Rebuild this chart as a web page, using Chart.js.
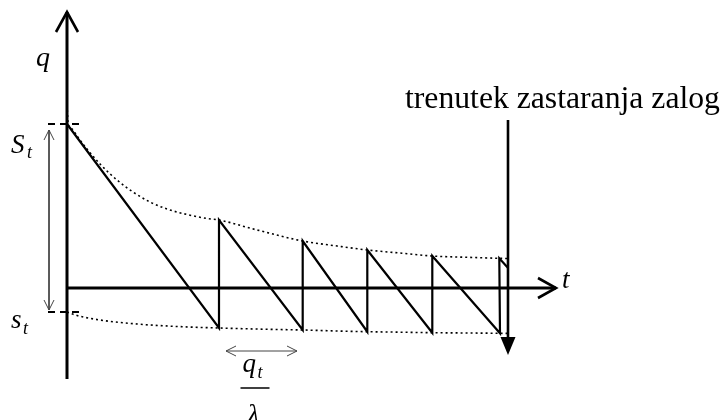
<!DOCTYPE html>
<html><head><meta charset="utf-8">
<script src="https://cdn.jsdelivr.net/npm/chart.js@4"></script>
<style>html,body{margin:0;padding:0;background:#fff}#wrap{width:724px;height:420px;position:relative}</style>
</head><body><div id="wrap"><canvas id="c"></canvas></div>
<script>
// time (t) and stock level (q) values, origin at the axes crossing
const sawT = [0, 152, 152, 235.7, 235.7, 300.3, 300.3, 365.3, 365.3, 433, 432.3, 441.3];
const sawQ = [164, -40, 68, -42, 47, -43.7, 38, -44.7, 32, -45.3, 29.7, 19.7];
const upperT = [0, 1.2, 5, 10, 20, 33, 50, 66, 83, 100, 120, 140, 152, 190, 235.7, 270, 300.3, 335, 365.3, 400, 432, 441];
const upperQ = [183, 164, 159, 152, 139, 124, 108, 96, 86, 79, 73.5, 69.5, 68, 58, 47, 42, 38, 34.8, 32, 30.7, 29.7, 29.4];
const lowerT = [0, 10, 33, 70, 110, 152, 200, 235.7, 270, 300.3, 335, 365.3, 400, 433, 440];
const lowerQ = [-24, -27.5, -32, -36, -38.5, -40, -41.3, -42, -43, -43.7, -44.2, -44.7, -45, -45.3, -45.4];
const levelQ = [164, -24];          // S_t and s_t
const markT = [-19, 16];            // extent of the dashed level marks
const qAxisQ = [-91, 276];          // vertical axis extent
const tAxisT = [0, 489];            // horizontal axis extent
const expiryT = 441;                // moment of stock expiry
const expiryQ = [168, -67];
const spanArrowT = -18;             // S_t - s_t span arrow
const spanArrowQ = [158, -22];
const cycleArrowQ = -63;            // q_t / lambda span arrow
const cycleArrowT = [159, 230];
const labels = {q: 'q', S: 'S', s: 's', t: 't', sub: 't', note: 'trenutek zastaranja zalog', lam: 'λ'};

const pts = (ts, qs) => ts.map((t, i) => ({x: t, y: qs[i]}));
const lineDs = (data, w, extra) => Object.assign({data, borderColor: '#000', borderWidth: w, pointRadius: 0, showLine: true, fill: false, tension: 0}, extra || {});

const datasets = [
  lineDs(pts([0, 0], qAxisQ), 3),
  lineDs(pts(tAxisT, [0, 0]), 3),
  lineDs(pts(upperT, upperQ), 1.6, {borderDash: [2, 3], cubicInterpolationMode: 'monotone'}),
  lineDs(pts(lowerT, lowerQ), 1.6, {borderDash: [2, 3], cubicInterpolationMode: 'monotone'}),
  lineDs(pts(sawT, sawQ), 2.2),
  lineDs(pts(markT, [levelQ[0], levelQ[0]]), 2, {borderDash: [7, 5]}),
  lineDs(pts(markT, [levelQ[1], levelQ[1]]), 2, {borderDash: [7, 5]}),
  lineDs(pts([expiryT, expiryT], [expiryQ[0], expiryQ[1] + 16]), 2.6),
  lineDs(pts([spanArrowT, spanArrowT], spanArrowQ), 1, {borderColor: '#444'}),
  lineDs(pts(cycleArrowT, [cycleArrowQ, cycleArrowQ]), 1, {borderColor: '#444'})
];

const deco = {
  id: 'deco',
  afterDatasetsDraw(chart) {
    const c = chart.ctx, X = chart.scales.x, Y = chart.scales.y;
    const px = v => X.getPixelForValue(v), py = v => Y.getPixelForValue(v);
    const chevron = (x, y, a, b, c2, d, w, col) => {
      c.save(); c.strokeStyle = col; c.lineWidth = w; c.lineCap = 'butt'; c.lineJoin = 'miter';
      c.beginPath(); c.moveTo(x + a, y + b); c.lineTo(x, y); c.lineTo(x + c2, y + d); c.stroke(); c.restore();
    };
    // axis arrows
    chevron(px(0), py(qAxisQ[1]), -11, 20, 11, 20, 2.6, '#000');
    chevron(px(tAxisT[1]), py(0), -18, -10, -18, 10, 2.6, '#000');
    // expiry arrow head
    const ex = px(expiryT), ey = py(expiryQ[1]);
    c.save(); c.fillStyle = '#000'; c.beginPath(); c.moveTo(ex, ey); c.lineTo(ex - 7.5, ey - 18); c.lineTo(ex + 7.5, ey - 18); c.closePath(); c.fill(); c.restore();
    // thin double arrows
    const sx = px(spanArrowT);
    chevron(sx, py(spanArrowQ[0]), -5, 10, 5, 10, 1, '#444');
    chevron(sx, py(spanArrowQ[1]), -5, -10, 5, -10, 1, '#444');
    const cy = py(cycleArrowQ);
    chevron(px(cycleArrowT[0]), cy, 10, -5, 10, 5, 1, '#444');
    chevron(px(cycleArrowT[1]), cy, -10, -5, -10, 5, 1, '#444');
    // texts
    const serif = '"Liberation Serif","Times New Roman",serif';
    const txt = (s, x, y, size, it) => { c.save(); c.fillStyle = '#000'; c.font = (it ? 'italic ' : '') + size + 'px ' + serif; c.textBaseline = 'alphabetic'; c.textAlign = 'left'; c.fillText(s, x, y); c.restore(); };
    const ox = px(0);
    txt(labels.q, ox - 31, py(qAxisQ[1]) + 54, 28, true);
    const sy = py(levelQ[0]);
    txt(labels.S, ox - 56, sy + 29, 27, true); txt(labels.sub, ox - 40, sy + 34, 18, true);
    const ly = py(levelQ[1]);
    txt(labels.s, ox - 56, ly + 16, 27, true); txt(labels.sub, ox - 44, ly + 22, 18, true);
    txt(labels.t, px(tAxisT[1]) + 6, py(0), 27, true);
    txt(labels.note, ex - 103, py(expiryQ[0]) - 12, 31.7, false);
    // fraction q_t / lambda
    const fx = (px(cycleArrowT[0]) + px(cycleArrowT[1])) / 2;
    txt(labels.q, fx - 19, cy + 21, 27, true); txt(labels.sub, fx - 4, cy + 27, 18, true);
    c.save(); c.strokeStyle = '#000'; c.lineWidth = 1.5; c.beginPath(); c.moveTo(fx - 21, cy + 37); c.lineTo(fx + 8, cy + 37); c.stroke(); c.restore();
    txt(labels.lam, fx - 14, cy + 72, 27, true);
  }
};

new Chart(document.getElementById('c'), {
  type: 'scatter',
  data: {datasets},
  options: {
    responsive: true, maintainAspectRatio: false, animation: false,
    layout: {padding: 0},
    plugins: {legend: {display: false}, tooltip: {enabled: false}},
    scales: {
      x: {type: 'linear', display: false, min: -67, max: 657},
      y: {type: 'linear', display: false, min: -132, max: 288}
    }
  },
  plugins: [deco]
});
</script></body></html>
